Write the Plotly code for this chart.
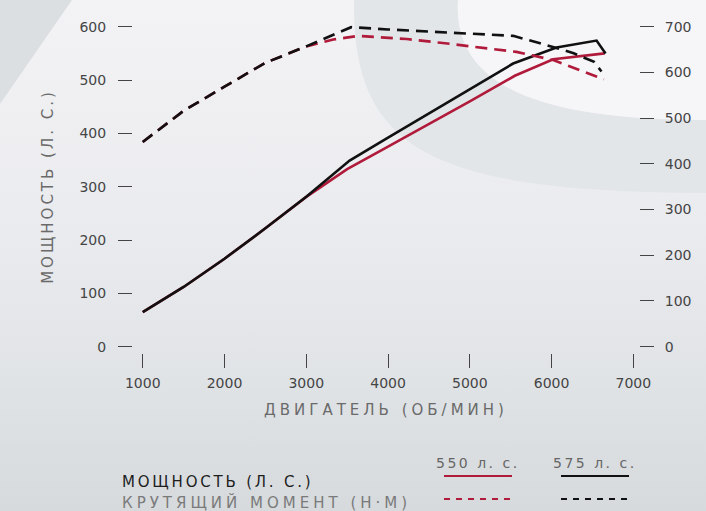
import base64
import plotly.graph_objects as go

# ---------------- data ----------------
rpm_power_550 = [1000, 1500, 2000, 2500, 3000, 3500, 4000, 4500, 5000, 5550, 6020, 6650]
power_550 = [65, 112, 165, 222, 281, 333, 375, 417, 460, 508, 539, 550]

rpm_power_575 = [1000, 1500, 2000, 2500, 3000, 3530, 4000, 4500, 5000, 5530, 6060, 6550, 6660]
power_575 = [65, 112, 165, 222, 281, 349, 392, 437, 483, 531, 561, 574, 550]

rpm_torque_550 = [1000, 1500, 2000, 2500, 3000, 3330, 3640, 4230, 4640, 5570, 6020, 6640]
torque_550 = [448, 516, 569, 621, 657, 672, 680, 673, 665, 645, 627, 585]

rpm_torque_575 = [1000, 1500, 2000, 2500, 3000, 3550, 4000, 4500, 5000, 5530, 5860, 6270, 6520, 6610]
torque_575 = [448, 516, 569, 621, 657, 699, 694, 689, 684, 680, 664, 642, 623, 602]

x_ticks = [1000, 2000, 3000, 4000, 5000, 6000, 7000]
power_ticks = [0, 100, 200, 300, 400, 500, 600]
torque_ticks = [0, 100, 200, 300, 400, 500, 600, 700]

x_title = "ДВИГАТЕЛЬ (ОБ/МИН)"
y_title = "МОЩНОСТЬ (Л. С.)"
legend_power = "МОЩНОСТЬ (Л. С.)"
legend_torque = "КРУТЯЩИЙ МОМЕНТ (Н·М)"
legend_550 = "550 л. с."
legend_575 = "575 л. с."

RED = "#b01a3b"
BLACK = "#111111"

# ---------------- layout geometry ----------------
W, H = 706, 511
ML, MR, MT, MB = 133, 67, 20, 158
PW, PH = W - ML - MR, H - MT - MB


def px(xp):
    return (xp - ML) / PW


def py(yp):
    return (H - MB - yp) / PH


FONT = "DejaVu Sans"

fig = go.Figure()

fig.add_trace(go.Scatter(x=rpm_power_550, y=power_550, mode="lines", name="550 л. с. мощность",
                         line=dict(color=RED, width=2.6), yaxis="y"))
fig.add_trace(go.Scatter(x=rpm_torque_550, y=torque_550, mode="lines", name="550 л. с. крутящий момент",
                         line=dict(color=RED, width=2.6, dash="12px,7px"), yaxis="y2"))
fig.add_trace(go.Scatter(x=rpm_power_575, y=power_575, mode="lines", name="575 л. с. мощность",
                         line=dict(color=BLACK, width=2.6), yaxis="y"))
fig.add_trace(go.Scatter(x=rpm_torque_575, y=torque_575, mode="lines", name="575 л. с. крутящий момент",
                         line=dict(color=BLACK, width=2.6, dash="12px,7px"), yaxis="y2"))

# ---------------- background (decorative svg) ----------------
svg = f"""<svg xmlns='http://www.w3.org/2000/svg' width='{W}' height='{H}' viewBox='0 0 {W} {H}'>
<defs><linearGradient id='g' x1='0' y1='0' x2='0' y2='1'>
<stop offset='0' stop-color='#f3f3f5'/><stop offset='0.45' stop-color='#eaebee'/>
<stop offset='0.75' stop-color='#e0e3e6'/><stop offset='1' stop-color='#d6dadd'/></linearGradient></defs>
<rect width='{W}' height='{H}' fill='url(#g)'/>
<path d='M0,0 L72,0 L0,104 Z' fill='#dcdfe2'/>
<path d='M354,0 C352,150 430,192 706,193 L706,120 C560,120 452,95 458,0 Z' fill='#e3e6e9'/>
<path d='M458,0 C452,95 560,120 706,120 L706,0 Z' fill='#f6f6f8'/>
</svg>"""
src = "data:image/svg+xml;base64," + base64.b64encode(svg.encode("utf-8")).decode("ascii")
fig.add_layout_image(dict(source=src, xref="paper", yref="paper", x=px(0), y=py(0),
                          sizex=W / PW, sizey=H / PH, xanchor="left", yanchor="top",
                          sizing="stretch", layer="below"))

tickfont = dict(family=FONT, size=14, color="#454545")

fig.update_layout(
    width=W, height=H,
    margin=dict(l=ML, r=MR, t=MT, b=MB, pad=0),
    paper_bgcolor="#e8e9ec",
    plot_bgcolor="rgba(0,0,0,0)",
    showlegend=False,
    xaxis=dict(range=[881, 7069], tickvals=x_ticks, ticks="outside", ticklen=14, tickwidth=1.3,
               tickcolor="#444444", showgrid=False, zeroline=False, showline=False,
               tickfont=tickfont, ticklabelstandoff=3,
               title=dict(text=f"<span style='letter-spacing:4px'>{x_title}</span>",
                          font=dict(family=FONT, size=15, color="#6a6a6a"), standoff=14)),
    yaxis=dict(range=[-11.8, 612.6], tickvals=power_ticks, ticks="outside", ticklen=14, tickwidth=1.3,
               tickcolor="#444444", showgrid=False, zeroline=False, showline=False,
               tickfont=tickfont, ticklabelstandoff=9,
               title=dict(text=f"<span style='letter-spacing:3px'>{y_title}</span>",
                          font=dict(family=FONT, size=15, color="#6a6a6a"), standoff=22)),
    yaxis2=dict(range=[-13.8, 714.7], tickvals=torque_ticks, overlaying="y", side="right",
                ticks="outside", ticklen=14, tickwidth=1.3, tickcolor="#444444",
                showgrid=False, zeroline=False, showline=False, tickfont=tickfont,
                ticklabelstandoff=8),
)

# ---------------- custom legend ----------------
fig.add_annotation(x=px(120), y=py(482), xref="paper", yref="paper", xanchor="left", yanchor="middle",
                   showarrow=False,
                   text=f"<span style='letter-spacing:2.8px'>{legend_power}</span>",
                   font=dict(family=FONT, size=15, color="#1e1e1e"))
fig.add_annotation(x=px(120), y=py(502), xref="paper", yref="paper", xanchor="left", yanchor="middle",
                   showarrow=False,
                   text=f"<span style='letter-spacing:4px'>{legend_torque}</span>",
                   font=dict(family=FONT, size=15, color="#7a7a7a"))
fig.add_annotation(x=px(478), y=py(463), xref="paper", yref="paper", xanchor="center", yanchor="middle",
                   showarrow=False,
                   text=f"<span style='letter-spacing:2.5px'>{legend_550}</span>",
                   font=dict(family=FONT, size=14, color="#666666"))
fig.add_annotation(x=px(595), y=py(463), xref="paper", yref="paper", xanchor="center", yanchor="middle",
                   showarrow=False,
                   text=f"<span style='letter-spacing:2.5px'>{legend_575}</span>",
                   font=dict(family=FONT, size=14, color="#666666"))

for x0, x1, col in [(444, 512, RED), (561, 629, BLACK)]:
    fig.add_shape(type="line", xref="paper", yref="paper", x0=px(x0), x1=px(x1), y0=py(476), y1=py(476),
                  line=dict(color=col, width=2))
    fig.add_shape(type="line", xref="paper", yref="paper", x0=px(x0), x1=px(x1), y0=py(499), y1=py(499),
                  line=dict(color=col, width=2, dash="6px,6px"))

fig.write_html("out.html", config={"displayModeBar": False},
               post_script="document.body.style.margin='0';")
